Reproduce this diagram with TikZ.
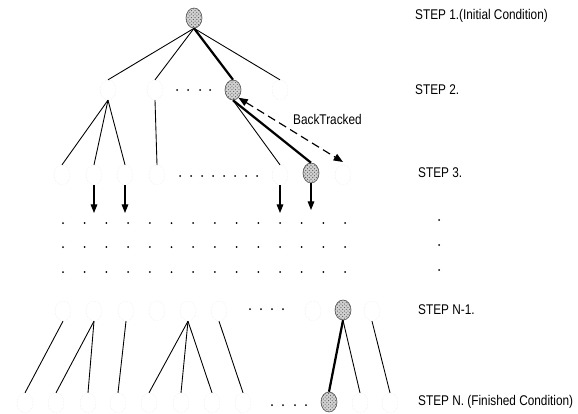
\documentclass[tikz,border=0pt]{standalone}
\usepackage{fontspec}
\setmainfont{Liberation Sans}[FakeStretch=0.84]
\usetikzlibrary{shapes.geometric,arrows.meta,patterns}
\begin{document}
\begin{tikzpicture}[x=0.3mm,y=-0.3mm,
  st/.style={ellipse,minimum width=4.8mm,minimum height=6mm,inner sep=0pt},
  faint/.style={st,draw=black!14,line width=0.3pt,densely dotted},
  goal/.style={st,draw=black!70,fill=black!18,line width=0.5pt,
    postaction={pattern=crosshatch dots,pattern color=black!65}},
  lnk/.style={line width=0.75pt},
  bestlnk/.style={line width=1.9pt},
  darrow/.style={line width=0.9pt,-{Triangle[length=2.6mm,width=2mm]}},
  btarrow/.style={line width=1pt,dash pattern=on 7pt off 4pt,{Triangle[length=2.8mm,width=2.2mm]}-{Triangle[length=2.8mm,width=2.2mm]}},
  lbl/.style={anchor=west,font=\fontsize{12}{14}\selectfont,inner sep=0pt}]
\useasboundingbox (0,0) rectangle (578,413);
% step 1
\node[goal] (root) at (194,18) {};
% step 2
\node[faint] (a1) at (108,90) {};
\node[faint] (a2) at (155,90) {};
\node[goal]  (a3) at (233,90) {};
\node[faint] (a4) at (280,90) {};
\foreach \x in {177,188,200,210} \fill (\x,90) circle (1);
% step 3
\node[faint] (b1) at (62,175) {};
\node[faint] (b2) at (94,175) {};
\node[faint] (b3) at (125,175) {};
\node[faint] (b4) at (157,175) {};
\node[faint] (b5) at (280,175) {};
\node[goal]  (b6) at (311,173) {};
\node[faint] (b7) at (343,175) {};
\foreach \x in {180,191,202,213,224,235,246,257} \fill (\x,176) circle (1);
% step N-1
\node[faint] (c1) at (63,311) {};
\node[faint] (c2) at (94,311) {};
\node[faint] (c3) at (126,311) {};
\node[faint] (c4) at (157,311) {};
\node[faint] (c5) at (188,311) {};
\node[faint] (c6) at (219,311) {};
\node[faint] (c7) at (313,311) {};
\node[goal]  (c8) at (343,310) {};
\node[faint] (c9) at (372,311) {};
\foreach \x in {250,261,272,283} \fill (\x,309) circle (1);
% step N
\node[faint] (d1) at (25,403) {};
\node[faint] (d2) at (56,403) {};
\node[faint] (d3) at (88,403) {};
\node[faint] (d4) at (118,403) {};
\node[faint] (d5) at (149,403) {};
\node[faint] (d6) at (181,403) {};
\node[faint] (d7) at (212,403) {};
\node[faint] (d8) at (243,403) {};
\node[goal]  (d9) at (329,402) {};
\node[faint] (d10) at (360,403) {};
\node[faint] (d11) at (390,403) {};
\foreach \x in {272,283,295,306} \fill (\x,405) circle (1);
% dot grid
\foreach \i in {0,...,13} \foreach \y in {223,247,272} \fill ({63+21.7*\i},\y) circle (1);
\foreach \y in {220,245,270} \fill (439,\y) circle (1);
% connectors
\draw[lnk] (root.south) -- (a1.north);
\draw[lnk] (root.south) -- (a2.north);
\draw[lnk] (root.south) -- (a4.north);
\draw[bestlnk] (root.south) -- (a3.north);
\draw[lnk] (a1.south) -- (b1.north);
\draw[lnk] (a1.south) -- (b2.north);
\draw[lnk] (a1.south) -- (b3.north);
\draw[lnk] (a2.south) -- (b4.north);
\draw[lnk] (a3.south) -- (b5.north);
\draw[bestlnk] (a3.south) -- (b6.north);
\coordinate (e2) at (94,213);
\coordinate (e3) at (125,213);
\coordinate (e5) at (280,213);
\coordinate (e6) at (311,210);
\draw[darrow] (b2.south) -- (e2);
\draw[darrow] (b3.south) -- (e3);
\draw[darrow] (b5.south) -- (e5);
\draw[darrow] (b6.south) -- (e6);
\coordinate (bt) at (343,162);
\draw[btarrow] (a3.-55) -- (bt);
\node[lbl] (btl) at (293,119) {BackTracked};
\draw[lnk] (c1.south) -- (d1.north);
\draw[lnk] (c2.south) -- (d2.north);
\draw[lnk] (c2.south) -- (d3.north);
\draw[lnk] (c3.south) -- (d4.north);
\draw[lnk] (c5.south) -- (d5.north);
\draw[lnk] (c5.south) -- (d6.north);
\draw[lnk] (c5.south) -- (d7.north);
\draw[lnk] (c6.south) -- (d8.north);
\draw[bestlnk] (c8.south) -- (d9.north);
\draw[lnk] (c8.south) -- (d10.north);
\draw[lnk] (c9.south) -- (d11.north);
% step labels
\node[lbl] (s1) at (415,16) {STEP 1.(Initial Condition)};
\node[lbl] (s2) at (415,90) {STEP 2.};
\node[lbl] (s3) at (418,173) {STEP 3.};
\node[lbl] (s4) at (418,310) {STEP N-1.};
\node[lbl] (s5) at (418,402) {STEP N. (Finished Condition)};
\end{tikzpicture}
\end{document}
